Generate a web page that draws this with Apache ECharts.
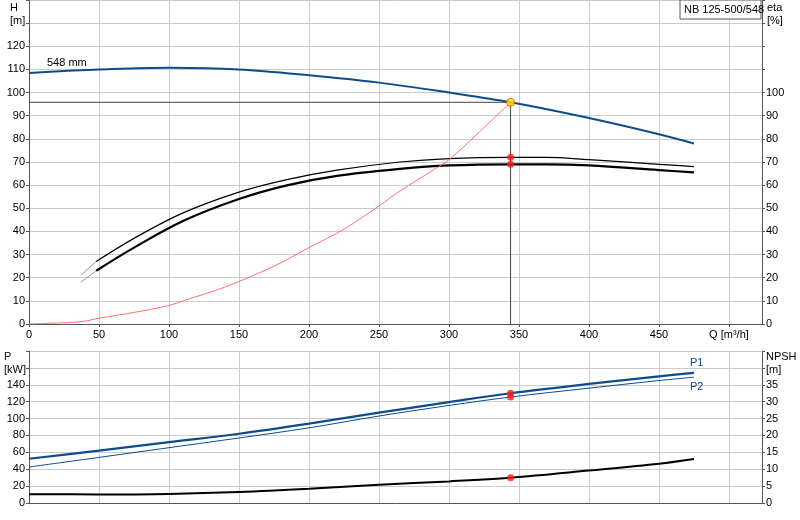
<!DOCTYPE html>
<html><head><meta charset="utf-8">
<script src="https://cdn.jsdelivr.net/npm/echarts@6/dist/echarts.min.js"></script>
<style>html,body{margin:0;padding:0;background:#fff}#c{width:800px;height:520px}</style>
</head><body><div id="c"></div>
<script>
const headQ = [[0,108.5],[25,109.3],[50,110],[100,110.7],[150,110],[200,107.5],[250,104.3],[300,100],[344,95.8],[400,89],[450,82],[475,78]];
const eta1 = [[48,23],[75,33],[110,44.5],[150,54],[185,60],[220,64],[265,67],[300,68.5],[344,69],[370,69],[400,68.5],[450,66.5],[475,65.5]];
const eta1Ext = [[37,18],[48,23]];
const eta2 = [[48,27],[75,37],[110,48],[150,57],[185,62.5],[220,66.5],[265,70],[300,71.5],[344,72],[370,72],[400,71],[450,69],[475,68]];
const eta2Ext = [[37,21],[48,27]];
const system = [[0,0],[37,1],[50,2.5],[75,5],[100,8],[110,10],[140,16],[175,25],[200,33],[225,41],[250,51],[265,57.5],[290,67],[300,71],[320,82],[344,95.8]];
const dutyQ = 344, dutyH = 95.8;
const p1 = [[0,52.4],[50,62],[100,72],[150,82],[200,94],[250,107],[300,119.5],[344,130],[400,141],[450,150],[475,154]];
const p2 = [[0,42.6],[50,54],[100,65.5],[150,77],[200,89],[250,103],[300,115.5],[344,125.5],[400,136],[450,145],[475,149]];
const npsh = [[0,2.6],[50,2.55],[100,2.7],[150,3.25],[200,4.2],[250,5.4],[300,6.4],[344,7.5],[400,9.6],[450,11.6],[475,13]];
const ff = 'Liberation Sans';
const lab = {fontFamily:ff,fontSize:11,color:'#000'};
const gridLine = {show:true,lineStyle:{color:'#cccccc',width:1}};
const axLine = {show:true,lineStyle:{color:'#555',width:1}};
function xAx(idx, showLab){return {type:'value',gridIndex:idx,min:0,max:523.6,interval:50,
  axisLine:axLine,axisTick:{show:showLab,length:3,lineStyle:{color:'#555'}},splitLine:gridLine,
  axisLabel:{show:showLab,...lab,margin:5,showMaxLabel:false,formatter:v=>v===500?'Q [m³/h]':v}};}
function yAx(idx,max,interval,labMax,pos,showSplit){return {type:'value',gridIndex:idx,min:0,max:max,interval:interval,position:pos,
  axisLine:axLine,axisTick:{show:true,length:3,lineStyle:{color:'#555'}},splitLine:{show:showSplit,lineStyle:{color:'#cccccc'}},
  axisLabel:{...lab,margin:4,formatter:v=>v>labMax?'':v}};}
const chart = echarts.init(document.getElementById('c'));
const L = (d,x,y,c,w,extra)=>Object.assign({type:'line',xAxisIndex:x,yAxisIndex:y,data:d,showSymbol:false,smooth:0.35,lineStyle:{color:c,width:w},silent:true,z:3},extra||{});
chart.setOption({
  animation:false,
  grid:[{left:29,right:38,top:0,bottom:196},{left:29,right:38,top:351,bottom:17}],
  xAxis:[xAx(0,true),xAx(1,false)],
  yAxis:[yAx(0,140,10,120,'left',true),yAx(0,140,10,100,'right',false),
         yAx(1,180,20,140,'left',true),yAx(1,45,5,35,'right',false)],
  series:[
    L(headQ,0,0,'#0d4c8c',2),
    L(eta1,0,1,'#000',2.2),
    L(eta1Ext,0,1,'#777',0.8),
    L(eta2,0,1,'#000',1.2),
    L(eta2Ext,0,1,'#777',0.8),
    L(system,0,0,'#ff7070',1),
    L([[0,dutyH],[dutyQ,dutyH]],0,0,'#444',1,{smooth:false}),
    L([[dutyQ,0],[dutyQ,dutyH]],0,0,'#444',1,{smooth:false}),
    {type:'scatter',xAxisIndex:0,yAxisIndex:1,data:[[dutyQ,72],[dutyQ,69]],symbolSize:7,itemStyle:{color:'#ff1a1a'},z:5},
    {type:'scatter',xAxisIndex:0,yAxisIndex:0,data:[[dutyQ,dutyH]],symbolSize:8,itemStyle:{color:'#ffe000',borderColor:'#ff4000',borderWidth:1},z:6},
    L(p1,1,2,'#0d4c8c',2.2,{endLabel:{show:true,formatter:'P1',offset:[-12,-10],fontFamily:ff,fontSize:11,color:'#0d4c8c'}}),
    L(p2,1,2,'#0d4c8c',1,{endLabel:{show:true,formatter:'P2',offset:[-12,10],fontFamily:ff,fontSize:11,color:'#0d4c8c'}}),
    L(npsh,1,3,'#000',2),
    {type:'scatter',xAxisIndex:1,yAxisIndex:2,data:[[dutyQ,130],[dutyQ,125.5]],symbolSize:7,itemStyle:{color:'#ff1a1a'},z:5},
    {type:'scatter',xAxisIndex:1,yAxisIndex:3,data:[[dutyQ,7.5]],symbolSize:7,itemStyle:{color:'#ff1a1a'},z:5}
  ],
  graphic:[
    {type:'text',left:10,top:1,style:{text:'H\n[m]',fontFamily:ff,fontSize:11,align:'center',lineHeight:13}},
    {type:'text',left:767,top:1,style:{text:'eta\n[%]',fontFamily:ff,fontSize:11,lineHeight:13}},
    {type:'text',left:4,top:350,style:{text:'P\n[kW]',fontFamily:ff,fontSize:11,lineHeight:13}},
    {type:'text',left:766,top:350,style:{text:'NPSH\n[m]',fontFamily:ff,fontSize:11,lineHeight:13}},
    {type:'text',left:47,top:57,style:{text:'548 mm',fontFamily:ff,fontSize:11}},
    {type:'rect',shape:{x:680,y:0,width:81,height:19},style:{fill:'#fff',stroke:'#555',lineWidth:1},z:10},
    {type:'text',left:684,top:4,style:{text:'NB 125-500/548',fontFamily:ff,fontSize:11},z:11}
  ]
});
</script></body></html>
